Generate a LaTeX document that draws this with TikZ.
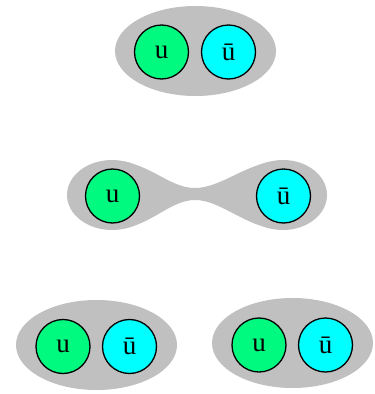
\documentclass[tikz,border=0pt]{standalone}
\usepackage{fontspec}
\setmainfont{Liberation Serif}
\definecolor{qgreen}{RGB}{0,250,128}
\definecolor{qcyan}{RGB}{0,255,255}
\definecolor{blobgray}{RGB}{192,192,192}
\begin{document}
\begin{tikzpicture}[x=1pt,y=1pt,
  quark/.style={circle,draw=black,line width=1.3pt,minimum size=54pt,inner sep=0pt,font=\fontsize{27}{27}\selectfont},
  uq/.style={quark,fill=qgreen},
  ubar/.style={quark,fill=qcyan},
  blob/.style={fill=blobgray,draw=none}]
\useasboundingbox (0,0) rectangle (375,-394);
% top
\fill[blob] (195.5,-51) ellipse [x radius=80.5,y radius=45];
\node[uq] (u1) at (161.5,-52) {u};
\node[ubar] (b1) at (228.5,-52) {ū};
% middle
\fill[blob] (112,-195) ellipse [x radius=45,y radius=35];
\fill[blob] (283,-195) ellipse [x radius=44,y radius=35];
\fill[blob] (125,-161.5) .. controls (155,-168.5) and (172,-188) .. (195,-188)
  .. controls (218,-188) and (240,-168.5) .. (270,-161.5) -- (270,-228.5)
  .. controls (240,-221.5) and (218,-200) .. (195,-200)
  .. controls (172,-200) and (155,-221.5) .. (125,-228.5) -- cycle;
\node[uq] (u2) at (112.5,-196) {u};
\node[ubar] (b2) at (283.5,-196) {ū};
% bottom
\fill[blob] (96.5,-345) ellipse [x radius=80.5,y radius=45];
\node[uq] (u3) at (63,-346.5) {u};
\node[ubar] (b3) at (129.5,-346.5) {ū};
\fill[blob] (292.5,-343) ellipse [x radius=80.5,y radius=45];
\node[uq] (u4) at (259,-345) {u};
\node[ubar] (b4) at (325.5,-345) {ū};
\end{tikzpicture}
\end{document}
